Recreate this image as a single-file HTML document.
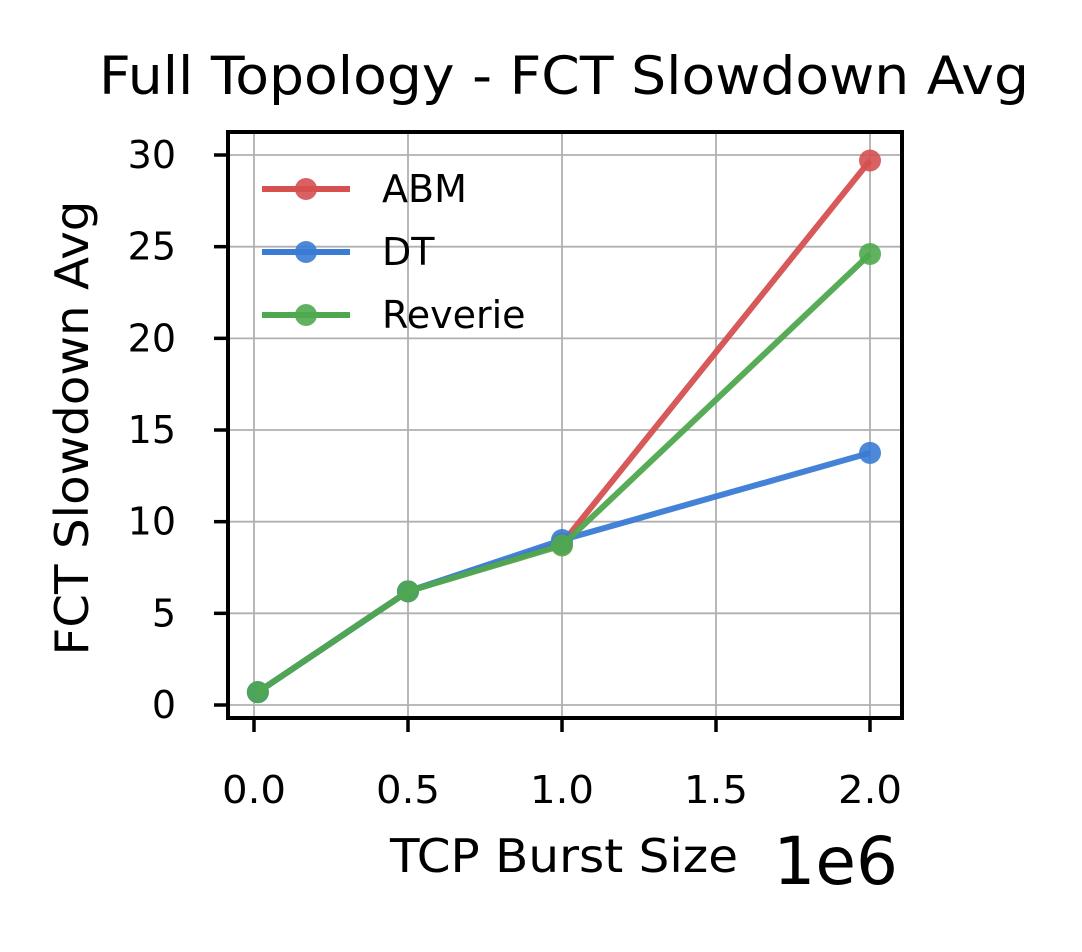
<!DOCTYPE html>
<html><head><meta charset="utf-8"><style>
body{margin:0;background:#fff;}
svg text{font-family:"DejaVu Sans","Liberation Sans",sans-serif;fill:#000;}
</style></head><body>
<svg id="chart" width="1082" height="947" viewBox="0 0 1082 947" xmlns="http://www.w3.org/2000/svg">
<rect width="1082" height="947" fill="#fff"/>
<text x="564" y="94" font-size="53" text-anchor="middle" textLength="930" lengthAdjust="spacingAndGlyphs">Full Topology - FCT Slowdown Avg</text>
<g id="grid"></g>
<g id="axes"></g>
<g id="series"></g>
<rect x="228" y="132" width="674" height="586" fill="none" stroke="#000" stroke-width="4"/>
<text transform="translate(88,428) rotate(-90)" font-size="46" text-anchor="middle" textLength="455" lengthAdjust="spacingAndGlyphs">FCT Slowdown Avg</text>
<text x="564" y="872" font-size="46" text-anchor="middle" textLength="348" lengthAdjust="spacingAndGlyphs">TCP Burst Size</text>
<text x="898" y="884" font-size="66" text-anchor="end">1e6</text>
<g id="legend"></g>
</svg>
<script>
const xValues=[0.0125,0.5,1.0,2.0];
const seriesNames=["ABM","DT","Reverie"];
const abmValues=[0.7,6.2,8.8,29.7];
const dtValues=[0.7,6.2,9.0,13.75];
const reverieValues=[0.7,6.2,8.7,24.6];
const xTicks=[0,0.5,1.0,1.5,2.0];
const xTickLabels=["0.0","0.5","1.0","1.5","2.0"];
const yTicks=[0,5,10,15,20,25,30];
const colors=["#d65050","#3a7bd5","#4fa84f"];
const NS="http://www.w3.org/2000/svg";
function X(v){return 254+v*308;}
function Y(v){return 705-v*18.333;}
function mk(tag,attrs,parent){const e=document.createElementNS(NS,tag);for(const k in attrs)e.setAttribute(k,attrs[k]);document.getElementById(parent).appendChild(e);return e;}
xTicks.forEach((t,i)=>{
 let g=mk('line',{x1:X(t),x2:X(t),y1:132,y2:718,stroke:'#b0b0b0','stroke-width':1.8},'grid');
 
 
 let k=mk('line',{x1:X(t),x2:X(t),y1:718,y2:732,stroke:'#000','stroke-width':3.5},'axes');
 
 
 let l=mk('text',{x:X(t),y:803,'font-size':38,'text-anchor':'middle',textLength:64,lengthAdjust:'spacingAndGlyphs'},'axes');l.textContent=xTickLabels[i];
 
 
});
yTicks.forEach(t=>{
 let g=mk('line',{x1:228,x2:902,y1:Y(t),y2:Y(t),stroke:'#b0b0b0','stroke-width':1.8},'grid');
 
 
 let k=mk('line',{x1:214,x2:228,y1:Y(t),y2:Y(t),stroke:'#000','stroke-width':3.5},'axes');
 
 
 let l=mk('text',{x:176,y:Y(t)+13,'font-size':38,'text-anchor':'end'},'axes');l.textContent=String(t);
 
 
});
const allSeries=[abmValues,dtValues,reverieValues];
allSeries.forEach((vals,si)=>{
 const pts=vals.map((v,i)=>X(xValues[i])+','+Y(v)).join(' ');
 let pl=mk('polyline',{points:pts,fill:'none',stroke:colors[si],'stroke-width':6,'stroke-opacity':0.95},'series');
 
 
 vals.forEach((v,i)=>{
  let c=mk('circle',{cx:X(xValues[i]),cy:Y(v),r:11,fill:colors[si],'fill-opacity':0.9},'series');
  
  
 });
});
seriesNames.forEach((n,i)=>{
 const y=189+i*63;
 let l=mk('line',{x1:262,x2:350,y1:y,y2:y,stroke:colors[i],'stroke-width':6},'legend');
 
 
 let c=mk('circle',{cx:306,cy:y,r:11,fill:colors[i],'fill-opacity':0.9},'legend');
 
 
 let t=mk('text',{x:382,y:y+13,'font-size':38},'legend');t.textContent=n;
 
 
});
</script>
</body></html>
